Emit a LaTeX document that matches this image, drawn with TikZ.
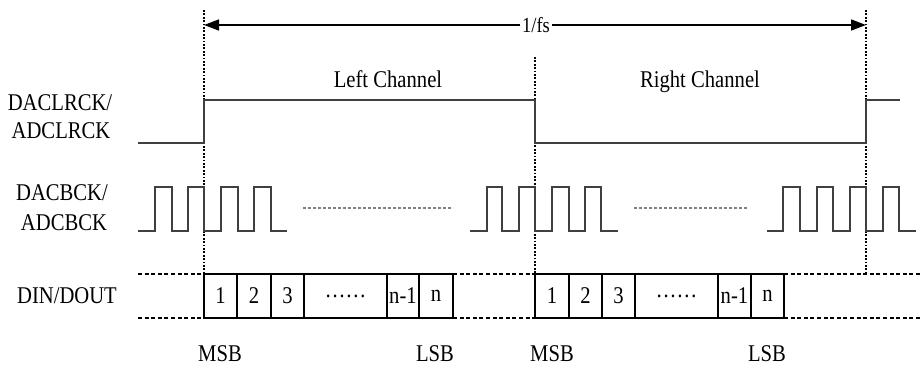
\documentclass[tikz,border=0pt]{standalone}
\usepackage{fontspec}
\setmainfont{Liberation Serif}[FakeStretch=0.86]
\usetikzlibrary{arrows.meta}
\begin{document}
\begin{tikzpicture}[x=1pt,y=-1pt,
  lbl/.style={font=\fontsize{24}{28}\selectfont, inner sep=0pt},
  sig/.style={line width=1.7pt, black!75, line join=miter},
  vdot/.style={line width=1.2pt, dash pattern=on 1.8pt off 1.6pt},
  ddash/.style={line width=2.6pt, dash pattern=on 4pt off 2.6pt},
  gdot/.style={line width=2.2pt, black!50, dash pattern=on 3pt off 2pt},
  cell/.style={draw, line width=1.2pt, minimum height=44pt, inner sep=0pt, outer sep=0pt,
    anchor=west, font=\fontsize{24}{28}\selectfont, text depth=0pt},
  tip/.style={-{Triangle[length=15pt,width=11pt]}, line width=1.5pt}]
\useasboundingbox (0,0) rectangle (922,365);

% vertical dotted markers
\coordinate (v1t) at (204,10);  \coordinate (v1b) at (204,273);
\coordinate (v2t) at (535,57);  \coordinate (v2b) at (535,273);
\coordinate (v3t) at (866,10);  \coordinate (v3b) at (866,273);
\draw[vdot] (v1t) -- (v1b);
\draw[vdot] (v2t) -- (v2b);
\draw[vdot] (v3t) -- (v3b);

% 1/fs arrow
\node[lbl, font=\fontsize{21.5}{24}\selectfont, inner sep=1.5pt] (fs) at (536,25) {1/fs};
\coordinate (al) at (204,25);
\coordinate (ar) at (866,25);
\draw[tip] (fs.west) -- (al);
\draw[tip] (fs.east) -- (ar);

% channel labels
\node[lbl, anchor=base] (lc) at (388,87) {Left Channel};
\node[lbl, anchor=base] (rc) at (700,87) {Right Channel};

% signal names
\node[lbl, anchor=base] (n1) at (60,110) {DACLRCK/};
\node[lbl, anchor=base] (n2) at (61,138) {ADCLRCK};
\node[lbl, anchor=base] (n3) at (62,200) {DACBCK/};
\node[lbl, anchor=base] (n4) at (64,230) {ADCBCK};
\node[lbl, anchor=base] (n5) at (67,303) {DIN/DOUT};

% LRCK
\draw[sig] (138,143) -| (204,100) -| (535,143) -| (866,100) -- (900,100);

% BCK
\draw[sig] (138,231) -| (155,187) -| (172,231) -| (188,187) -| (204,231) -| (221,187)
  -| (238,231) -| (254,187) -| (271,231) -- (287,231);
\draw[sig] (470,231) -| (487,187) -| (502,231) -| (519,187) -| (535,231) -| (552,187)
  -| (569,231) -| (585,187) -| (601,231) -- (618,231);
\draw[sig] (767,231) -| (783,187) -| (800,231) -| (817,187) -| (833,231) -| (850,187)
  -| (866,231) -| (883,187) -| (899,231) -- (916,231);
\draw[gdot] (303,208) -- (453,208);
\draw[gdot] (634,208) -- (748,208);

% DIN/DOUT cells (left word)
\node[cell, minimum width=33pt] (a1) at (204,296) {1};
\node[cell, minimum width=34pt] (a2) at (a1.east) {2};
\node[cell, minimum width=33pt] (a3) at (a2.east) {3};
\node[cell, minimum width=83pt] (a4) at (a3.east) {……};
\node[cell, minimum width=32pt] (a5) at (a4.east) {n-1};
\node[cell, minimum width=34pt] (a6) at (a5.east) {n};
% right word
\node[cell, minimum width=34pt] (b1) at (535,296) {1};
\node[cell, minimum width=33pt] (b2) at (b1.east) {2};
\node[cell, minimum width=33pt] (b3) at (b2.east) {3};
\node[cell, minimum width=83pt] (b4) at (b3.east) {……};
\node[cell, minimum width=33pt] (b5) at (b4.east) {n-1};
\node[cell, minimum width=33pt] (b6) at (b5.east) {n};

\coordinate (dlt) at (138,274); \coordinate (dlb) at (138,318);
\coordinate (drt) at (920,274); \coordinate (drb) at (920,318);
\draw[ddash] (dlt) -- (a1.north west);
\draw[ddash] (dlb) -- (a1.south west);
\draw[ddash] (a6.north east) -- (b1.north west);
\draw[ddash] (a6.south east) -- (b1.south west);
\draw[ddash] (b6.north east) -- (drt);
\draw[ddash] (b6.south east) -- (drb);

% MSB / LSB
\node[lbl, anchor=base] (m1) at (220,361) {MSB};
\node[lbl, anchor=base] (s1) at (435,361) {LSB};
\node[lbl, anchor=base] (m2) at (552,361) {MSB};
\node[lbl, anchor=base] (s2) at (767,361) {LSB};
\end{tikzpicture}
\end{document}
